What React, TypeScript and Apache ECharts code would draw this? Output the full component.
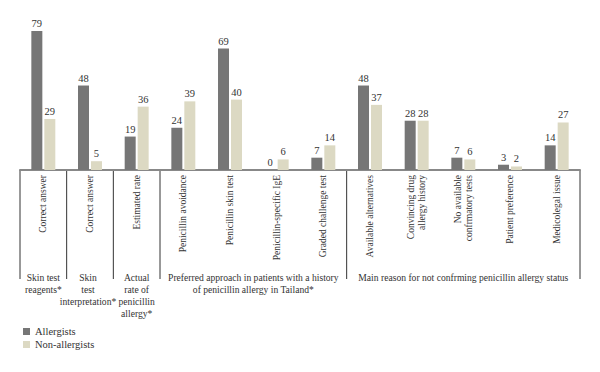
import React, { useEffect, useRef } from "react";
import * as echarts from "echarts";

const categories = [
  "Correct answer",
  "Correct answer",
  "Estimated rate",
  "Penicillin avoidance",
  "Penicillin skin test",
  "Penicillin-specific IgE",
  "Graded challenge test",
  "Available alternatives",
  "Convincing drug\nallergy history",
  "No available\nconfrmatory tests",
  "Patient preference",
  "Medicolegal issue",
];
const allergists = [79, 48, 19, 24, 69, 0, 7, 48, 28, 7, 3, 14];
const nonAllergists = [29, 5, 36, 39, 40, 6, 14, 37, 28, 6, 2, 27];
const groupLabels = [
  "Skin test\nreagents*",
  "Skin\ntest\ninterpretation*",
  "Actual\nrate of\npenicillin\nallergy*",
  "Preferred approach in patients with a history\nof penicillin allergy in Tailand*",
  "Main reason for not confrming penicillin allergy status",
];
const groupSizes = [1, 1, 1, 4, 5];

const FONT = "Liberation Serif";

export default function App() {
  const ref = useRef<HTMLDivElement>(null);
  useEffect(() => {
    if (!ref.current) return;
    const chart = echarts.init(ref.current, null, { renderer: "svg" });
    chart.setOption({
      animation: false,
      textStyle: { fontFamily: FONT },
      grid: { left: 20, right: 20, top: 29.2, bottom: 202, containLabel: false },
      legend: {
        orient: "vertical",
        left: 18,
        top: 321,
        itemWidth: 7,
        itemHeight: 7,
        itemGap: 2,
        icon: "rect",
        textStyle: { fontFamily: FONT, fontSize: 10.5, color: "#333" },
        data: ["Allergists", "Non-allergists"],
      },
      xAxis: {
        type: "category",
        data: categories,
        axisLine: { lineStyle: { color: "#888", width: 2 } },
        axisTick: { show: false },
        axisLabel: {
          rotate: 90,
          interval: 0,
          fontFamily: FONT,
          fontSize: 9.5,
          color: "#333",
          margin: 5,
          lineHeight: 11,
        },
      },
      yAxis: {
        type: "value",
        min: 0,
        max: 80,
        show: false,
        splitLine: { show: false },
      },
      series: [
        {
          name: "Allergists",
          type: "bar",
          data: allergists,
          barWidth: 11,
          barGap: "18%",
          itemStyle: { color: "#767676" },
          label: {
            show: true,
            position: "top",
            distance: 2,
            fontFamily: FONT,
            fontSize: 10.5,
            color: "#333",
          },
        },
        {
          name: "Non-allergists",
          type: "bar",
          data: nonAllergists,
          barWidth: 11,
          itemStyle: { color: "#dcd9c3" },
          label: {
            show: true,
            position: "top",
            distance: 2,
            fontFamily: FONT,
            fontSize: 10.5,
            color: "#333",
          },
        },
      ],
    });

    const c0 = chart.convertToPixel({ xAxisIndex: 0 }, 0) as number;
    const c1 = chart.convertToPixel({ xAxisIndex: 0 }, 1) as number;
    const band = c1 - c0;
    const y0 = chart.convertToPixel({ yAxisIndex: 0 }, 0) as number;
    const graphic: any[] = [];
    let idx = 0;
    const boundaries: number[] = [c0 - band / 2];
    groupSizes.forEach((s, g) => {
      const left = c0 - band / 2 + idx * band;
      idx += s;
      const right = c0 - band / 2 + idx * band;
      boundaries.push(right);
      graphic.push({
        type: "text",
        x: (left + right) / 2 + (g === 1 ? -2 : 0),
        y: y0 + 101,
        style: {
          text: groupLabels[g],
          fontFamily: FONT,
          fontSize: 9.6,
          lineHeight: 12,
          fill: "#333",
          align: "center",
          verticalAlign: "top",
        },
      });
    });
    boundaries.forEach((bx) => {
      graphic.push({
        type: "line",
        shape: { x1: bx, y1: y0, x2: bx, y2: y0 + 109 },
        style: { stroke: "#333", lineWidth: 1 },
      });
    });
    chart.setOption({ graphic });
    return () => chart.dispose();
  }, []);
  return <div ref={ref} style={{ width: 600, height: 372, margin: -8 }} />;
}
